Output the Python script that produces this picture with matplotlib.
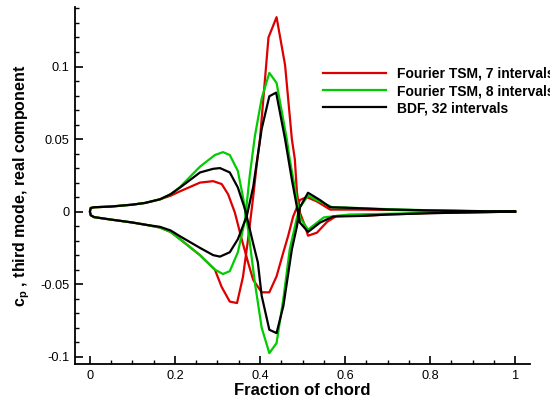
import numpy as np
import matplotlib
matplotlib.use("Agg")
import matplotlib.pyplot as plt
from matplotlib.ticker import MultipleLocator

plt.rcParams["font.family"] = ["Liberation Sans", "DejaVu Sans"]
plt.rcParams["mathtext.fontset"] = "custom"
plt.rcParams["mathtext.rm"] = "Liberation Sans"
plt.rcParams["mathtext.bf"] = "Liberation Sans:bold"

# Fourier TSM, 7 intervals (red) -- branch A dips near 0.41, branch B peaks near 0.44
red_xa = [0, 0.002, 0.01, 0.05, 0.1, 0.13, 0.165, 0.19, 0.212, 0.259, 0.29, 0.31, 0.325, 0.341, 0.357, 0.372,
          0.384, 0.404, 0.422, 0.439, 0.455, 0.466, 0.478, 0.494, 0.51, 0.534, 0.565, 0.635, 0.7, 0.8, 0.9, 1.0]
red_ya = [0, 0.0025, 0.003, 0.0035, 0.0048, 0.006, 0.0085, 0.011, 0.014, 0.020, 0.021, 0.019, 0.012, -0.0007, -0.019, -0.035,
          -0.047, -0.0556, -0.0556, -0.0446, -0.028, -0.017, -0.0034, 0.008, 0.010, 0.007, 0.0014, 0.0014, 0.0012, 0.0007, 0.0003, 0]
red_xb = [0, 0.002, 0.01, 0.05, 0.1, 0.13, 0.165, 0.19, 0.212, 0.259, 0.294, 0.31, 0.329, 0.346, 0.36, 0.372, 0.384,
          0.393, 0.40, 0.42, 0.439, 0.459, 0.475, 0.482, 0.487, 0.494, 0.506, 0.513, 0.534, 0.558, 0.58, 0.65, 0.7, 0.8, 0.9, 1.0]
red_yb = [0, -0.0025, -0.0038, -0.0055, -0.0075, -0.009, -0.011, -0.014, -0.019, -0.030, -0.040, -0.052, -0.062, -0.063, -0.045, -0.019, 0.010,
          0.034, 0.050, 0.120, 0.134, 0.101, 0.050, 0.036, 0.013, -0.0007, -0.010, -0.0166, -0.0145, -0.007, -0.003, -0.0028, -0.002, -0.001, -0.0005, 0]

# Fourier TSM, 8 intervals (green)
green_xa = [0, 0.002, 0.01, 0.05, 0.1, 0.13, 0.165, 0.19, 0.212, 0.259, 0.294, 0.313, 0.329, 0.348, 0.36, 0.372,
            0.388, 0.404, 0.422, 0.439, 0.455, 0.47, 0.487, 0.494, 0.513, 0.54, 0.57, 0.6, 0.7, 0.8, 0.9, 1.0]
green_ya = [0, 0.0025, 0.003, 0.0035, 0.0048, 0.006, 0.0085, 0.012, 0.017, 0.031, 0.039, 0.041, 0.039, 0.028, 0.010, -0.012,
            -0.049, -0.080, -0.0975, -0.0906, -0.060, -0.026, -0.004, 0.003, 0.011, 0.007, 0.003, 0.0028, 0.0017, 0.0009, 0.0004, 0]
green_xb = [0, 0.002, 0.01, 0.05, 0.1, 0.13, 0.165, 0.19, 0.212, 0.259, 0.294, 0.313, 0.329, 0.348, 0.365, 0.376,
            0.388, 0.404, 0.422, 0.439, 0.463, 0.47, 0.487, 0.494, 0.513, 0.55, 0.61, 0.7, 0.8, 0.9, 1.0]
green_yb = [0, -0.0025, -0.0038, -0.0055, -0.0075, -0.009, -0.011, -0.014, -0.019, -0.030, -0.040, -0.043, -0.041, -0.028, -0.0055, 0.025,
            0.052, 0.078, 0.0956, 0.0887, 0.050, 0.036, 0.008, -0.004, -0.0124, -0.004, -0.002, -0.0015, -0.0008, -0.0004, 0]

# BDF, 32 intervals (black)
black_xa = [0, 0.002, 0.01, 0.05, 0.1, 0.13, 0.165, 0.19, 0.212, 0.259, 0.29, 0.306, 0.329, 0.348, 0.365, 0.384,
            0.395, 0.404, 0.422, 0.439, 0.455, 0.475, 0.487, 0.494, 0.513, 0.541, 0.565, 0.6, 0.7, 0.8, 0.9, 1.0]
black_ya = [0, 0.0025, 0.003, 0.0035, 0.0048, 0.006, 0.0085, 0.012, 0.0166, 0.027, 0.0295, 0.030, 0.027, 0.0166, 0.0014, -0.022,
            -0.035, -0.058, -0.0814, -0.0837, -0.065, -0.026, -0.010, 0.003, 0.013, 0.008, 0.003, 0.0027, 0.0015, 0.0008, 0.0004, 0]
black_xb = [0, 0.002, 0.01, 0.05, 0.1, 0.13, 0.165, 0.19, 0.212, 0.259, 0.29, 0.306, 0.329, 0.348, 0.369, 0.384,
            0.404, 0.422, 0.438, 0.459, 0.475, 0.487, 0.494, 0.513, 0.541, 0.572, 0.635, 0.7, 0.8, 0.9, 1.0]
black_yb = [0, -0.0025, -0.0038, -0.0055, -0.0075, -0.009, -0.0105, -0.013, -0.017, -0.025, -0.030, -0.031, -0.028, -0.019, -0.003, 0.017,
            0.057, 0.0795, 0.082, 0.050, 0.022, 0.003, -0.0076, -0.014, -0.0076, -0.0034, -0.003, -0.002, -0.0011, -0.0005, 0]

labels = ["Fourier TSM, 7 intervals", "Fourier TSM, 8 intervals", "BDF, 32 intervals"]
colors = ["#dd0000", "#00cc00", "black"]

series = [(red_xa, red_ya, red_xb, red_yb),
          (green_xa, green_ya, green_xb, green_yb),
          (black_xa, black_ya, black_xb, black_yb)]

fig = plt.figure(figsize=(5.5, 4), dpi=100)
ax = fig.add_axes([75 / 550, 1 - 364 / 400, 455 / 550, 357 / 400])

for (xa, ya, xb, yb), lab, col in zip(series, labels, colors):
    # one loop: branch A from trailing edge to leading edge, then branch B back
    x = list(reversed(xa)) + xb[1:]
    y = list(reversed(ya)) + yb[1:]
    ax.plot(x, y, color=col, lw=1.6, label=lab)

ax.set_xlim(-0.035, 1.035)
ax.set_ylim(-0.105, 0.141)

for s in ["top", "right"]:
    ax.spines[s].set_visible(False)
ax.spines["left"].set_linewidth(1.3)
ax.spines["bottom"].set_linewidth(1.3)

ax.xaxis.set_minor_locator(MultipleLocator(0.05))
ax.yaxis.set_minor_locator(MultipleLocator(0.01))
ax.set_xticks([0, 0.2, 0.4, 0.6, 0.8, 1.0])
ax.set_xticklabels(["0", "0.2", "0.4", "0.6", "0.8", "1"])
ax.set_yticks([-0.1, -0.05, 0, 0.05, 0.1])
ax.set_yticklabels(["-0.1", "-0.05", "0", "0.05", "0.1"])
ax.tick_params(which="major", direction="in", length=6, width=1.2, labelsize=9.2, pad=4)
ax.tick_params(which="minor", direction="in", length=3.2, width=1.0)

ax.set_xlabel("Fraction of chord", fontsize=12, fontweight="bold", labelpad=1)
ax.set_ylabel(r"c$_\mathbf{p}$ , third mode, real component", fontsize=11.5, fontweight="bold", labelpad=6)

ax.legend(loc="upper left", bbox_to_anchor=(323 / 550, 1 - 67 / 400), bbox_transform=fig.transFigure,
          frameon=False, borderpad=0, borderaxespad=0, handlelength=4.5, handletextpad=0.8,
          labelspacing=0.22, prop={"weight": "bold", "size": 10})

fig.savefig("out.png", dpi=100)
